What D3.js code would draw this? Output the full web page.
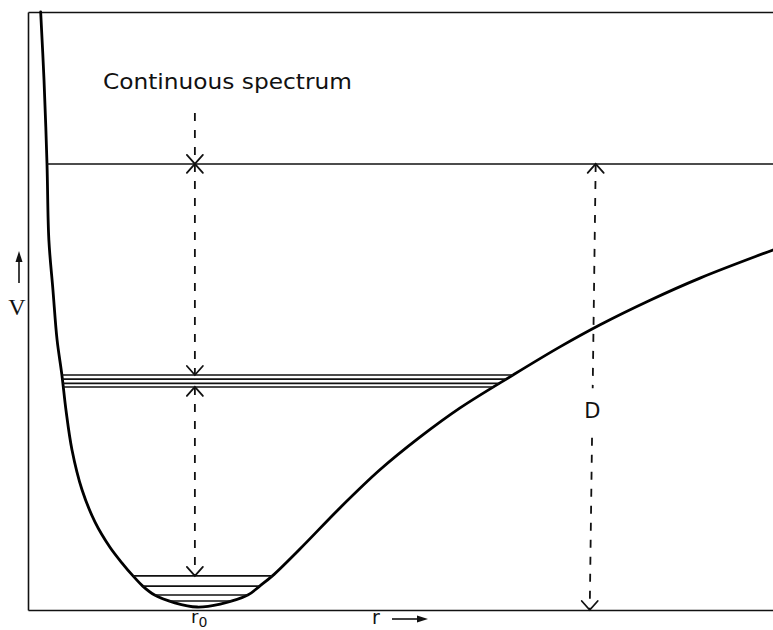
<!DOCTYPE html>
<html>
<head>
<meta charset="utf-8">
<script src="https://cdn.jsdelivr.net/npm/d3@7"></script>
<style>
  html, body { margin: 0; padding: 0; background: #fff; }
  svg { display: block; }
</style>
</head>
<body>
<svg id="chart" width="773" height="630"></svg>
<script>
// Potential energy V(r) of a diatomic molecule, arbitrary units (0–100 on both axes)
const curveR = [1.7, 2.15, 2.55, 2.8, 3.35, 3.9, 4.55, 5.1, 5.9, 7.25, 9.0, 11.0, 12.6, 14.1, 15.4, 17.0, 19.7, 22.7,
                25.8, 29.5, 31.1, 32.8, 36.5, 41.9, 47.2, 52.6, 58.0, 65.1, 71.4, 76.8, 83.5, 90.2, 100];
const curveV = [100, 88.6, 74.6, 61.9, 53.5, 45.2, 39.3, 33.4, 26.8, 20.1, 14.7, 10.5, 7.9, 5.7, 4.0, 2.5, 1.2, 0.5,
                1.0, 2.5, 4.0, 5.7, 10.2, 17.1, 23.4, 28.9, 33.8, 39.3, 44.0, 47.7, 51.8, 55.5, 60.2];

// Energy levels
const dissociationV = 74.6;                   // onset of the continuous spectrum
const upperLevels = [39.3, 38.6, 37.9, 37.3]; // crowded levels near the middle of the well
const lowerLevels = [5.7, 4.0, 2.5, 1.5];     // lowest vibrational levels

// Arrow positions
const spectrumArrowR = 22.4;
const spectrumTopV = 83.1;
const dArrowR = [76.2, 75.4];   // [at the dissociation line, at V = 0]
const dLabelV = 33.4;
const dGapV = [37.1, 28.8];

// Texts
const titleText = "Continuous spectrum";
const yLabel = "V";
const xLabel = "r";
const minLabel = ["r", "0"];
const dLabel = "D";

const svg = d3.select("#chart");
const x = d3.scaleLinear().domain([0, 100]).range([28, 773]);
const y = d3.scaleLinear().domain([0, 100]).range([610, 12]);

// Frame: bottom axis, left axis and top edge, no ticks
svg.append("g").attr("transform", `translate(0,${y(0)})`)
  .call(d3.axisBottom(x).ticks(0).tickSizeOuter(0));
svg.append("g").attr("transform", `translate(${x(0)},0)`)
  .call(d3.axisLeft(y).ticks(0).tickSizeOuter(0));
svg.append("g").attr("transform", `translate(0,${y(100)})`)
  .call(d3.axisTop(x).ticks(0).tickSizeOuter(0));
svg.selectAll(".domain").attr("stroke", "#111").attr("stroke-width", 1.6);

// Potential curve
const pts = curveR.map((r, i) => [r, curveV[i]]);
const line = d3.line().x(d => x(d[0])).y(d => y(d[1])).curve(d3.curveCatmullRom.alpha(0.5));
const curvePath = svg.append("path")
  .attr("d", line(pts))
  .attr("fill", "none")
  .attr("stroke", "#000")
  .attr("stroke-width", 2.8)
  .attr("stroke-linejoin", "round")
  .attr("stroke-linecap", "round");

// Where a horizontal level meets the drawn curve
function crossings(v) {
  const node = curvePath.node();
  const len = node.getTotalLength();
  const py = y(v);
  const xs = [];
  let prev = node.getPointAtLength(0);
  for (let s = 0.5; s <= len; s += 0.5) {
    const p = node.getPointAtLength(s);
    if ((prev.y - py) * (p.y - py) <= 0 && prev.y !== p.y) {
      const t = (py - prev.y) / (p.y - prev.y);
      xs.push(prev.x + t * (p.x - prev.x));
    }
    prev = p;
  }
  return xs;
}

function levelSegment(v, width) {
  const xs = crossings(v);
  const x0 = xs[0];
  const x1 = xs.length > 1 ? xs[xs.length - 1] : x(100);
  svg.append("line")
    .attr("x1", x0).attr("x2", x1)
    .attr("y1", y(v)).attr("y2", y(v))
    .attr("stroke", "#111").attr("stroke-width", width);
}

levelSegment(dissociationV, 1.5);
upperLevels.forEach(v => levelSegment(v, 1.6));
lowerLevels.forEach(v => levelSegment(v, 1.6));

// Dashed arrows
const dash = "8,9";
function dashed(x1, y1, x2, y2) {
  svg.append("line")
    .attr("x1", x1).attr("y1", y1).attr("x2", x2).attr("y2", y2)
    .attr("stroke", "#111").attr("stroke-width", 1.8)
    .attr("stroke-dasharray", dash);
}
function head(px, py, dir) {
  // open arrowhead; dir = 1 points down, -1 points up
  svg.append("path")
    .attr("d", `M${px - 8},${py - dir * 9}L${px},${py}L${px + 8},${py - dir * 9}`)
    .attr("fill", "none").attr("stroke", "#111").attr("stroke-width", 1.8)
    .attr("stroke-linecap", "round");
}

const ax = x(spectrumArrowR);
dashed(ax, y(spectrumTopV), ax, y(dissociationV));
head(ax, y(dissociationV), 1);
dashed(ax, y(dissociationV), ax, y(upperLevels[0]));
head(ax, y(dissociationV), -1);
head(ax, y(upperLevels[0]), 1);
const lastUpper = upperLevels[upperLevels.length - 1];
dashed(ax, y(lastUpper), ax, y(lowerLevels[0]));
head(ax, y(lastUpper), -1);
head(ax, y(lowerLevels[0]), 1);

// Dissociation energy D
const dxAt = v => x(dArrowR[1] + (dArrowR[0] - dArrowR[1]) * v / dissociationV);
dashed(dxAt(dissociationV), y(dissociationV), dxAt(dGapV[0]), y(dGapV[0]));
dashed(dxAt(dGapV[1]), y(dGapV[1]), dxAt(0), y(0));
head(dxAt(dissociationV), y(dissociationV), -1);
head(dxAt(0), y(0), 1);

svg.append("text")
  .attr("x", dxAt(dLabelV)).attr("y", y(dLabelV) + 8)
  .attr("text-anchor", "middle")
  .attr("font-family", "DejaVu Sans, sans-serif").attr("font-size", 21)
  .attr("fill", "#111")
  .text(dLabel);

// Title of the region above the dissociation limit
svg.append("text")
  .attr("x", 103).attr("y", 89)
  .attr("font-family", "DejaVu Sans, sans-serif").attr("font-size", 22)
  .attr("textLength", 249).attr("lengthAdjust", "spacingAndGlyphs")
  .attr("fill", "#111")
  .text(titleText);

// Axis labels with arrows
svg.append("text")
  .attr("x", 17).attr("y", 315)
  .attr("text-anchor", "middle")
  .attr("font-family", "Liberation Serif, serif").attr("font-size", 24)
  .attr("fill", "#111")
  .text(yLabel);
svg.append("line").attr("x1", 19).attr("x2", 19).attr("y1", 283).attr("y2", 258)
  .attr("stroke", "#111").attr("stroke-width", 1.6);
svg.append("path").attr("d", "M19,251L15.5,262L22.5,262Z").attr("fill", "#111");

svg.append("text")
  .attr("x", 372).attr("y", 624)
  .attr("font-family", "DejaVu Sans, sans-serif").attr("font-size", 19)
  .attr("fill", "#111")
  .text(xLabel);
svg.append("line").attr("x1", 392).attr("x2", 420).attr("y1", 619).attr("y2", 619)
  .attr("stroke", "#111").attr("stroke-width", 1.6);
svg.append("path").attr("d", "M428,619L417,615.5L417,622.5Z").attr("fill", "#111");

const minText = svg.append("text")
  .attr("x", 191).attr("y", 623)
  .attr("font-family", "DejaVu Sans, sans-serif").attr("font-size", 18)
  .attr("fill", "#111");
minText.append("tspan").text(minLabel[0]);
minText.append("tspan").attr("dy", 4).attr("font-size", 14).text(minLabel[1]);
</script>
</body>
</html>
